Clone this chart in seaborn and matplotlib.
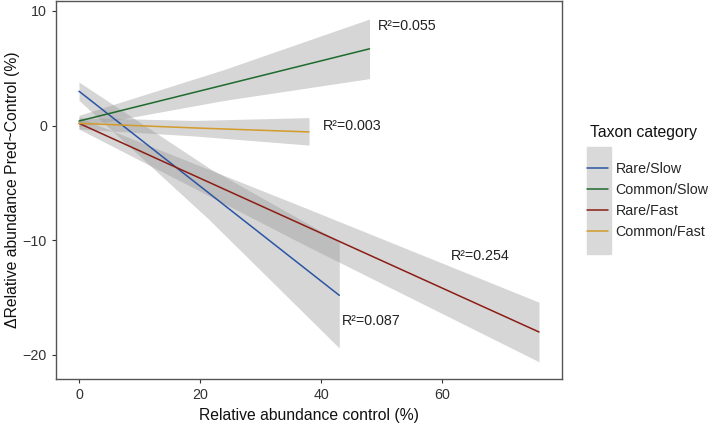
import pandas as pd
import matplotlib.pyplot as plt
import seaborn as sns
from matplotlib.patches import Rectangle

# fitted lines and confidence bands: (start, middle, end)
categories = ["Rare/Slow", "Common/Slow", "Rare/Fast", "Common/Fast"]
colors = ["#2b55a3", "#1f6a2e", "#8c1d15", "#d39b2b"]

x_rare_slow = [0, 21.5, 43]
fit_rare_slow = [3.0, -5.9, -14.8]
lo_rare_slow = [2.2, -8.2, -19.4]
hi_rare_slow = [3.8, -3.7, -10.1]

x_common_slow = [0, 24, 48]
fit_common_slow = [0.4, 3.55, 6.7]
lo_common_slow = [-0.1, 2.2, 4.1]
hi_common_slow = [0.9, 4.9, 9.3]

x_rare_fast = [0, 38, 76]
fit_rare_fast = [0.2, -8.9, -18.0]
lo_rare_fast = [-0.3, -10.6, -20.6]
hi_rare_fast = [0.7, -7.3, -15.4]

x_common_fast = [0, 19, 38]
fit_common_fast = [0.2, -0.2, -0.55]
lo_common_fast = [-0.3, -0.9, -1.7]
hi_common_fast = [0.7, 0.45, 0.7]

r2_labels = ["R²=0.087", "R²=0.055", "R²=0.254", "R²=0.003"]
r2_x = [43.5, 49.3, 61.5, 40.3]
r2_y = [-17.0, 8.7, -11.4, 0.0]

series = {
    "Rare/Slow": (x_rare_slow, fit_rare_slow, lo_rare_slow, hi_rare_slow),
    "Common/Slow": (x_common_slow, fit_common_slow, lo_common_slow, hi_common_slow),
    "Rare/Fast": (x_rare_fast, fit_rare_fast, lo_rare_fast, hi_rare_fast),
    "Common/Fast": (x_common_fast, fit_common_fast, lo_common_fast, hi_common_fast),
}

rows = []
for cat, (xs, fs, los, his) in series.items():
    for x, f, lo, hi in zip(xs, fs, los, his):
        rows.append({"x": x, "fit": f, "lo": lo, "hi": hi, "Taxon category": cat})
df = pd.DataFrame(rows)

sns.set_style("white")
plt.rcParams["font.family"] = ["Liberation Sans", "DejaVu Sans"]

fig = plt.figure(figsize=(7.09, 4.28), dpi=100)
ax = fig.add_axes([56 / 709, 1 - 379 / 428, (562 - 56) / 709, (379 - 1) / 428])

# confidence bands
for cat in categories:
    d = df[df["Taxon category"] == cat]
    ax.fill_between(d["x"], d["lo"], d["hi"], color="#999999", alpha=0.4,
                    linewidth=0, zorder=1)

sns.lineplot(data=df, x="x", y="fit", hue="Taxon category", hue_order=categories,
             palette=colors, linewidth=1.1, ax=ax, zorder=3, legend=True)

for lab, tx, ty in zip(r2_labels, r2_x, r2_y):
    ax.text(tx, ty, lab, fontsize=10.3, va="center", ha="left", color="#222222")

ax.set_xlim(-3.8, 79.8)
ax.set_ylim(-22.1, 10.87)
ax.set_xticks([0, 20, 40, 60])
ax.set_yticks([-20, -10, 0, 10])
ax.set_xlabel("Relative abundance control (%)", fontsize=11.3, color="#111111")
ax.set_ylabel("ΔRelative abundance Pred~Control (%)", fontsize=11.3, color="#111111",
              labelpad=2)
ax.tick_params(axis="both", labelsize=10.3, labelcolor="#333333", direction="out",
               length=3, width=0.8, color="#333333", left=True, bottom=True)
for s in ax.spines.values():
    s.set_color("#555555")
    s.set_linewidth(1.0)

handles, labels = ax.get_legend_handles_labels()
leg = ax.legend(handles, labels, frameon=False,
                loc="upper left", bbox_to_anchor=(587 / 709, 1 - 162 / 428),
                bbox_transform=fig.transFigure, fontsize=10.3,
                handlelength=1.5, handletextpad=0.5, labelspacing=0.5,
                borderaxespad=0, borderpad=0)
fig.text(590 / 709, 1 - 133 / 428, "Taxon category", fontsize=11.3,
         va="center", ha="left", color="#111111")
fig.add_artist(Rectangle((587 / 709, 1 - 254 / 428), 24 / 709, 107 / 428,
                         transform=fig.transFigure, color="#d9d9d9", zorder=0))

fig.savefig("out.png", dpi=100)
